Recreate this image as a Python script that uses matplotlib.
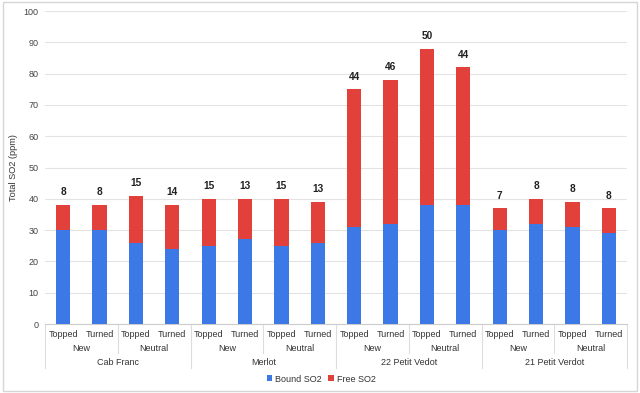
import numpy as np
import matplotlib.pyplot as plt
from matplotlib.lines import Line2D
from matplotlib.patches import Rectangle

plt.rcParams['font.family'] = ['Liberation Sans', 'DejaVu Sans']

# data
treatments = ['Topped', 'Turned'] * 8
conditions = ['New', 'Neutral'] * 4
varieties = ['Cab Franc', 'Merlot', '22 Petit Vedot', '21 Petit Verdot']
bound_so2 = [30, 30, 26, 24, 25, 27, 25, 26, 31, 32, 38, 38, 30, 32, 31, 29]
free_so2 = [8, 8, 15, 14, 15, 13, 15, 13, 44, 46, 50, 44, 7, 8, 8, 8]

blue = '#3c78e6'
red = '#e2403a'
fs = 6.5

fig = plt.figure(figsize=(6.4, 3.93), dpi=100)
ax = fig.add_axes([45/640, 1 - 324/393, (627 - 45)/640, 313/393])

x = np.arange(len(bound_so2))
w = 0.39
ax.bar(x, bound_so2, w, color=blue, label='Bound SO2', zorder=3)
ax.bar(x, free_so2, w, bottom=bound_so2, color=red, label='Free SO2', zorder=3)

totals = np.array(bound_so2) + np.array(free_so2)
for xi, t, f in zip(x, totals, free_so2):
    ax.annotate(str(f), (xi, t), xytext=(0, 5.5), textcoords='offset points',
                ha='center', va='bottom', fontsize=7.3, fontweight='bold', color='#222222')

ax.set_xlim(-0.5, len(x) - 0.5)
ax.set_ylim(0, 100)
ax.set_yticks(range(0, 101, 10))
ax.grid(axis='y', color='#e3e3e3', linewidth=0.8, zorder=0)
for s in ['top', 'right', 'left']:
    ax.spines[s].set_visible(False)
ax.spines['bottom'].set_color('#cccccc')
ax.tick_params(axis='y', length=0, labelsize=fs, labelcolor='#444444', pad=4.5)
ax.set_xticks([])
ax.set_ylabel('Total SO2 (ppm)', fontsize=6.6, color='#333333')
ax.yaxis.set_label_coords(-0.046, 0.5)

# hierarchical x labels
trans = ax.get_xaxis_transform()
for xi, lab in zip(x, treatments):
    ax.text(xi, -0.034, lab, transform=trans, ha='center', va='center', fontsize=fs, color='#333333')
for i, lab in enumerate(conditions):
    ax.text(2 * i + 0.5, -0.079, lab, transform=trans, ha='center', va='center', fontsize=fs, color='#333333')
for i, lab in enumerate(varieties):
    ax.text(4 * i + 1.5, -0.123, lab, transform=trans, ha='center', va='center', fontsize=fs, color='#333333')

for xs in [1.5, 5.5, 9.5, 13.5]:
    ax.add_line(Line2D([xs, xs], [0, -0.093], transform=trans, color='#dddddd', lw=0.8, clip_on=False))
for xs in [-0.5, 3.5, 7.5, 11.5, 15.5]:
    ax.add_line(Line2D([xs, xs], [0, -0.141], transform=trans, color='#dddddd', lw=0.8, clip_on=False))

fig.legend(loc='center', bbox_to_anchor=(321/640, 1 - 379/393), ncol=2, frameon=False,
           fontsize=fs, handlelength=0.6, handleheight=0.6, handletextpad=0.3, columnspacing=0.8,
           labelcolor='#333333')

fig.patches.append(Rectangle((0.004, 0.004), 0.992, 0.992, transform=fig.transFigure,
                             fill=False, edgecolor='#d6d6d6', lw=1))

fig.savefig('out.png', dpi=100)
